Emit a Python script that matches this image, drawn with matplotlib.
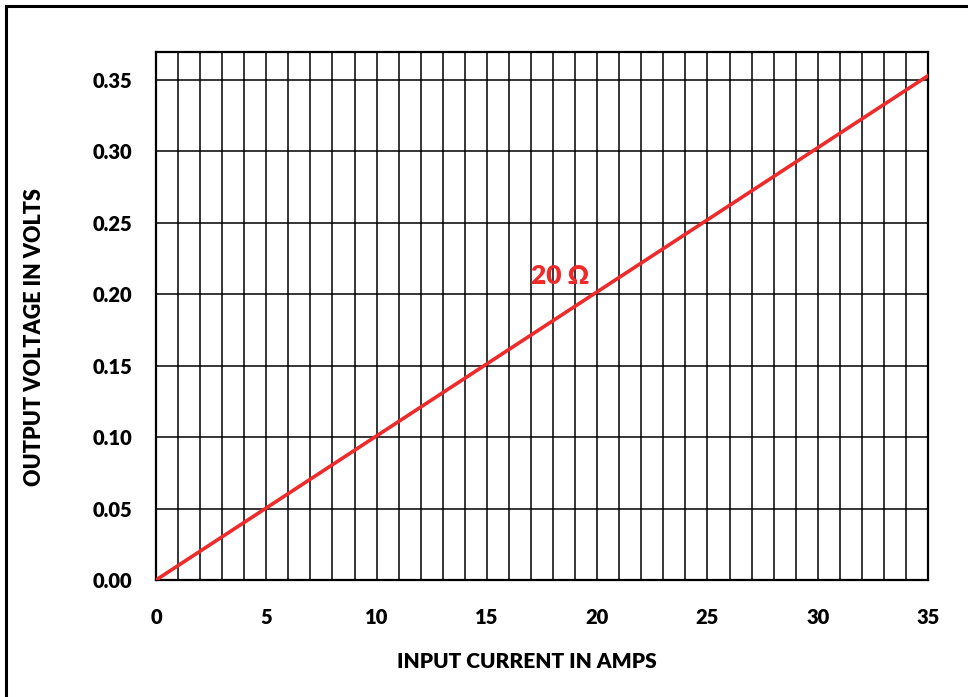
import numpy as np
import matplotlib.pyplot as plt
from matplotlib.lines import Line2D

# данные: ток (А) и напряжение (В)
current = [0, 35]
voltage = [0, 0.353]
x_ticks = [0, 5, 10, 15, 20, 25, 30, 35]
y_ticks = [0.00, 0.05, 0.10, 0.15, 0.20, 0.25, 0.30, 0.35]
label_text = "20 Ω"

plt.rcParams['font.family'] = ['Lato', 'DejaVu Sans']
W = 'heavy'

fig = plt.figure(figsize=(9.68, 6.97), dpi=100)
ax = fig.add_axes([0.1612, 0.1679, 0.7975, 0.7575])

ax.set_xlim(0, 35)
ax.set_ylim(0, 0.3696)

# сетка: вертикальные линии через 1, горизонтальные через 0.05
for xv in range(1, 35):
    ax.axvline(xv, color='black', lw=1.1, zorder=1)
for yv in y_ticks[1:]:
    ax.axhline(yv, color='black', lw=1.1, zorder=1)

ax.plot(current, voltage, color='#ee2a2a', lw=2.6, zorder=3)
ax.text(17.0, 0.213, label_text, color='#ee2a2a', fontsize=19,
        fontweight=W, ha='left', va='center', zorder=4)

ax.set_xticks(x_ticks)
ax.set_xticklabels([str(v) for v in x_ticks])
ax.set_yticks(y_ticks)
ax.set_yticklabels([f"{v:.2f}" for v in y_ticks])
ax.tick_params(axis='both', length=0, labelsize=14.5)
ax.tick_params(axis='x', pad=20)
ax.tick_params(axis='y', pad=17)
for lbl in ax.get_xticklabels() + ax.get_yticklabels():
    lbl.set_fontweight(W)

for s in ax.spines.values():
    s.set_color('black')
    s.set_linewidth(1.6)

ax.set_xlabel('INPUT CURRENT IN AMPS', fontsize=15, fontweight=W, va='center')
ax.set_ylabel('OUTPUT VOLTAGE IN VOLTS', fontsize=15.5, fontweight=W, va='center')
ax.xaxis.set_label_coords(0.481, -0.155)
ax.yaxis.set_label_coords(-0.157, 0.46)

# рамка вокруг рисунка (видны только верх и лево)
fig.add_artist(Line2D([6/968, 1], [1 - 6/697, 1 - 6/697], color='black', lw=2.2,
                      transform=fig.transFigure))
fig.add_artist(Line2D([6/968, 6/968], [0, 1 - 6/697], color='black', lw=2.2,
                      transform=fig.transFigure))

fig.savefig('out.png', dpi=100)
